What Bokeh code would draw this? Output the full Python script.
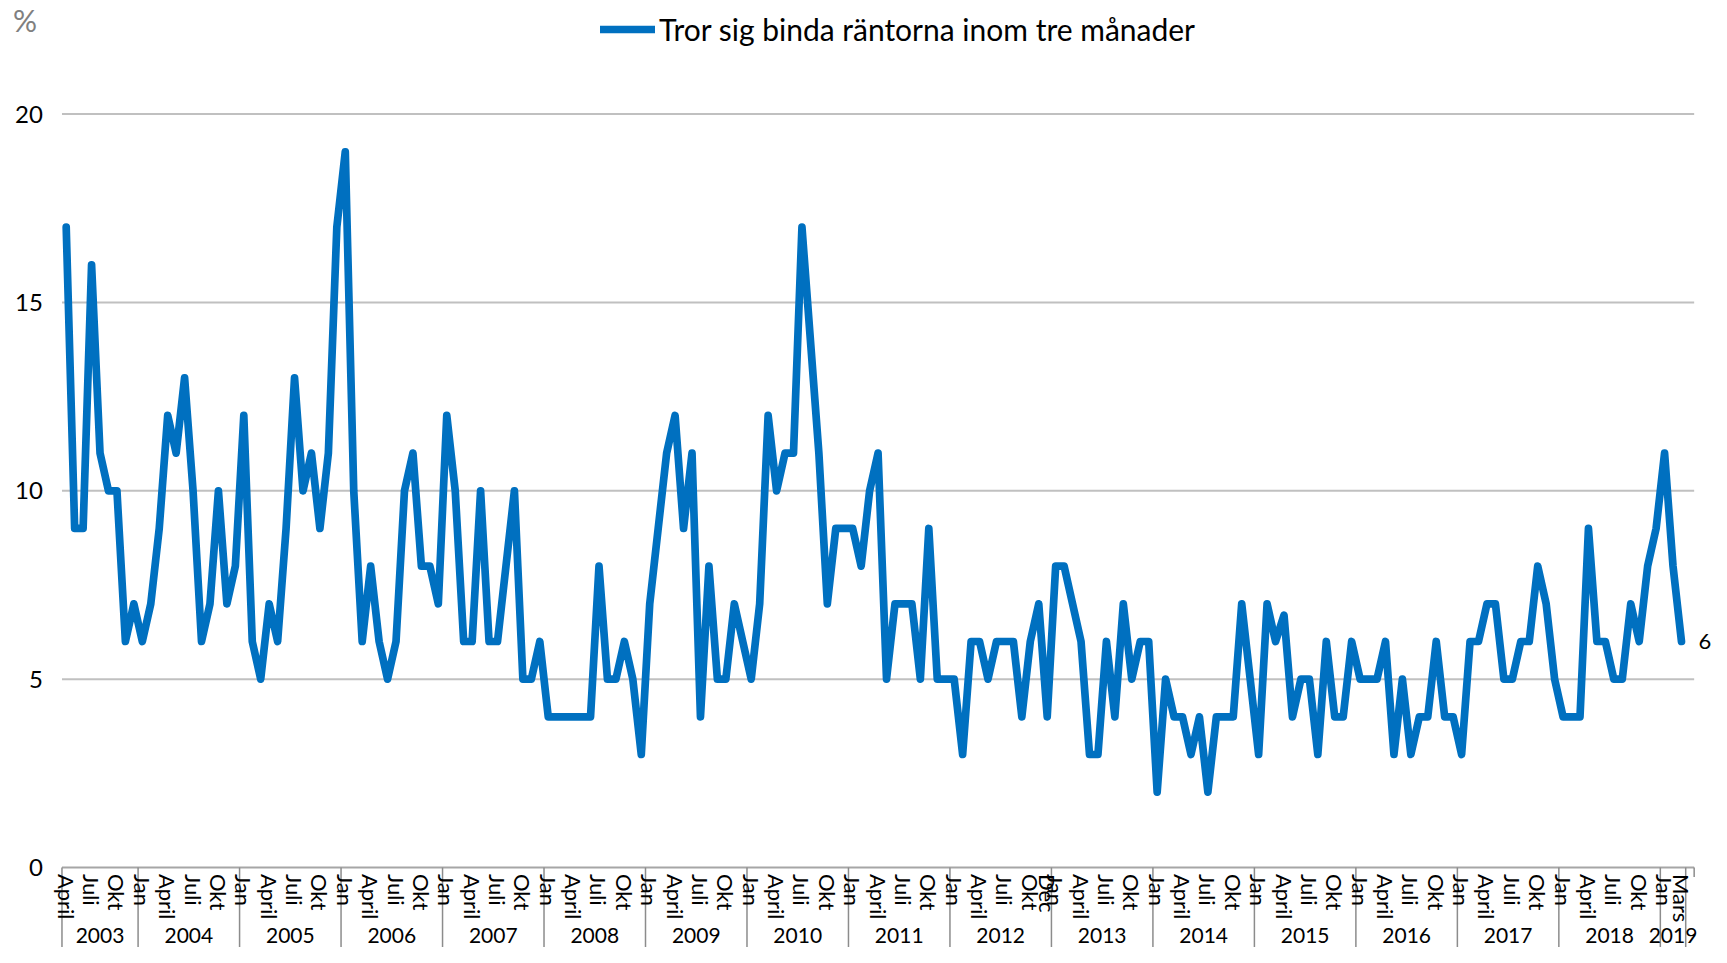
from bokeh.plotting import figure
from bokeh.models import Range1d, ColumnDataSource, Legend, LegendItem
from bokeh.core.properties import value
from bokeh.embed import file_html
from bokeh.resources import INLINE
import math

# ---- data (monthly, April 2003 - March 2019) ----
v2003 = [17, 9, 9, 16, 11, 10, 10, 6, 7]                    # Apr-Dec
v2004 = [6, 7, 9, 12, 11, 13, 10, 6, 7, 10, 7, 8]
v2005 = [12, 6, 5, 7, 6, 9, 13, 10, 11, 9, 11, 17]
v2006 = [19, 10, 6, 8, 6, 5, 6, 10, 11, 8, 8, 7]
v2007 = [12, 10, 6, 6, 10, 6, 6, 8, 10, 5, 5, 6]
v2008 = [4, 4, 4, 4, 4, 4, 8, 5, 5, 6, 5, 3]
v2009 = [7, 9, 11, 12, 9, 11, 4, 8, 5, 5, 7, 6]
v2010 = [5, 7, 12, 10, 11, 11, 17, 14, 11, 7, 9, 9]
v2011 = [9, 8, 10, 11, 5, 7, 7, 7, 5, 9, 5, 5]
v2012 = [5, 3, 6, 6, 5, 6, 6, 6, 4, 6, 7, 4]
v2013 = [8, 8, 7, 6, 3, 3, 6, 4, 7, 5, 6, 6]
v2014 = [2, 5, 4, 4, 3, 4, 2, 4, 4, 4, 7, 5]
v2015 = [3, 7, 6, 6.7, 4, 5, 5, 3, 6, 4, 4, 6]
v2016 = [5, 5, 5, 6, 3, 5, 3, 4, 4, 6, 4, 4]
v2017 = [3, 6, 6, 7, 7, 5, 5, 6, 6, 8, 7, 5]
v2018 = [4, 4, 4, 9, 6, 6, 5, 5, 7, 6, 8, 9]
v2019 = [11, 8, 6]                                           # Jan-Mar

years = ["2003", "2004", "2005", "2006", "2007", "2008", "2009", "2010", "2011",
         "2012", "2013", "2014", "2015", "2016", "2017", "2018", "2019"]
year_values = [v2003, v2004, v2005, v2006, v2007, v2008, v2009, v2010, v2011,
               v2012, v2013, v2014, v2015, v2016, v2017, v2018, v2019]
first_month = {"2003": 3}  # April (0-based)
month_names = ["Jan", "Feb", "Mars", "April", "Maj", "Juni", "Juli", "Aug",
               "Sep", "Okt", "Nov", "Dec"]
y_ticks = [0, 5, 10, 15, 20]
series_name = "Tror sig binda räntorna inom tre månader"
unit_label = "%"

# ---- build categories ----
values, month_idx, year_of = [], [], []
for y, vals in zip(years, year_values):
    m0 = first_month.get(y, 0)
    for k, v in enumerate(vals):
        values.append(v)
        month_idx.append(m0 + k)
        year_of.append(y)
n = len(values)
xs = list(range(n))

# month labels: every third category, plus Dec 2012 and the last one
lab_x, lab_t = [], []
for i in range(n):
    if i % 3 == 0 or i == n - 1 or (year_of[i] == "2012" and month_idx[i] == 11):
        lab_x.append(i)
        lab_t.append(month_names[month_idx[i]])

# year groups
bounds = [-0.5]
yr_x = []
start = 0
for y, vals in zip(years, year_values):
    end = start + len(vals)
    bounds.append(end - 0.5)
    yr_x.append((start - 0.5 + end - 0.5) / 2)
    start = end

FONT = "Lato"
W, H = 1711, 947
Y0, Y1 = -2.124, 23.016
p = figure(width=W, height=H, output_backend="svg", toolbar_location=None,
           x_axis_type=None, y_axis_type=None,
           x_range=Range1d(-7.769, 194.55), y_range=Range1d(Y0, Y1),
           min_border=0, min_border_left=0, min_border_right=0,
           min_border_top=0, min_border_bottom=0)
p.outline_line_color = None
p.grid.visible = False
p.background_fill_color = "white"

x_left, x_right = -0.5, n + 0.5

# gridlines
gl = [t for t in y_ticks if t > 0]
p.segment(x0=[x_left] * len(gl), x1=[x_right] * len(gl), y0=gl, y1=gl,
          line_color="#C0C0C0", line_width=2)
# axis line at 0
p.segment(x0=[x_left], x1=[x_right], y0=[0], y1=[0], line_color="#A6A6A6", line_width=2)
# year separators
p.segment(x0=bounds, x1=bounds, y0=[0] * len(bounds), y1=[Y0] * len(bounds),
          line_color="#8C8C8C", line_width=1.5)
p.segment(x0=[x_right], x1=[x_right], y0=[0], y1=[-0.25], line_color="#8C8C8C", line_width=1.5)

# y tick labels
p.text(x=[-2.75] * len(y_ticks), y=y_ticks, text=[str(t) for t in y_ticks],
       text_font=value(FONT), text_font_size="24px", text_align="right",
       text_baseline="middle", text_color="black")
# unit
p.text(x=[-6.3], y=[22.5], text=[unit_label], text_font=value(FONT),
       text_font_size="30px", text_align="left", text_baseline="middle", text_color="#808080")

# month labels
p.text(x=lab_x, y=[-0.17] * len(lab_x), text=lab_t, angle=-math.pi / 2,
       text_font=value(FONT), text_font_size="22px", text_align="left",
       text_baseline="middle", text_color="black")
# year labels
p.text(x=yr_x, y=[-1.80] * len(yr_x), text=years, text_font=value(FONT),
       text_font_size="21px", text_align="center", text_baseline="middle", text_color="black")

# series
src = ColumnDataSource(dict(x=xs, y=values))
r = p.line("x", "y", source=src, line_color="#0070C0", line_width=7.7,
           line_join="round", line_cap="round")

# end label
p.text(x=[n - 1 + 2.0], y=[values[-1]], text=[str(values[-1])], text_font=value(FONT),
       text_font_size="22px", text_align="left", text_baseline="middle", text_color="black")

legend = Legend(items=[LegendItem(label=series_name, renderers=[r])],
                location=(600, H - 47), orientation="horizontal",
                padding=0, margin=0, spacing=0, glyph_width=55, glyph_height=34,
                label_height=34, label_standoff=4,
                label_text_font=FONT, label_text_font_size="30px",
                label_text_color="black", border_line_color=None,
                background_fill_alpha=0)
p.add_layout(legend)

open("out.html", "w").write(file_html(p, INLINE))
